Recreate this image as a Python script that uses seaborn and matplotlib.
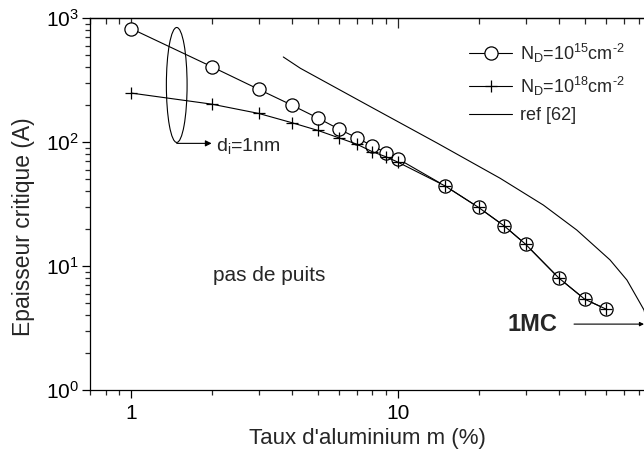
import matplotlib
matplotlib.use("Agg")
import numpy as np
import pandas as pd
import matplotlib.pyplot as plt
import seaborn as sns
from matplotlib.patches import Ellipse
from matplotlib.ticker import LogLocator, FixedLocator, FixedFormatter, NullFormatter

# Aluminium content m (%) and critical thickness (A) for two doping levels
taux_m = [1, 2, 3, 4, 5, 6, 7, 8, 9, 10, 15, 20, 25, 30, 40, 50, 60]
ep_nd15 = [820, 405, 266, 198, 156, 127, 108, 93, 82, 73, 44.2, 29.7, 21.0, 15.0, 8.0, 5.4, 4.5]
ep_nd18 = [248, 202, 170, 143, 124, 108, 96, 83.5, 76, 68.6, 44.2, 29.7, 21.0, 15.0, 8.0, 5.4, 4.5]

# Reference curve [62]
ref_m = [3.71, 4.30, 8.0, 14.0, 24.1, 35.0, 46.7, 62.2, 72.0, 79.5, 83.4, 86.0]
ref_ep = [485, 393, 189, 98, 51, 31, 19.5, 11.2, 7.7, 5.3, 4.42, 3.4]

mono_ep = 3.4  # one monolayer (1MC)

sns.set_style("ticks")
plt.rcParams["font.family"] = ["Liberation Sans", "DejaVu Sans"]
plt.rcParams["mathtext.fontset"] = "custom"
plt.rcParams["mathtext.rm"] = "Liberation Sans"
plt.rcParams["mathtext.it"] = "Liberation Sans:italic"
plt.rcParams["mathtext.bf"] = "Liberation Sans:bold"
plt.rcParams["mathtext.default"] = "regular"

FS = 15

fig = plt.figure(figsize=(6.44, 4.5), dpi=100)
ax = fig.add_axes([0.1398, 0.1333, 0.8602, 0.8267])

df15 = pd.DataFrame({"m": taux_m, "e": ep_nd15})
df18 = pd.DataFrame({"m": taux_m, "e": ep_nd18})
dfref = pd.DataFrame({"m": ref_m, "e": ref_ep})

sns.lineplot(data=df15, x="m", y="e", ax=ax, color="k", lw=0.8, marker="o",
             markersize=9.5, markerfacecolor="white", markeredgecolor="k",
             markeredgewidth=0.9, estimator=None, sort=False,
             label=r"N$_D$=10$^{15}$cm$^{\text{-}2}$")
sns.lineplot(data=df18, x="m", y="e", ax=ax, color="k", lw=0.8, marker="+",
             markersize=9, markeredgecolor="k", markeredgewidth=0.9,
             estimator=None, sort=False, label=r"N$_D$=10$^{18}$cm$^{\text{-}2}$")
sns.lineplot(data=dfref, x="m", y="e", ax=ax, color="k", lw=0.8,
             estimator=None, sort=False, label="ref [62]")

ax.set_xscale("log")
ax.set_yscale("log")
ax.set_xlim(0.7, 83.4)
ax.set_ylim(1, 1000)

# axis ticks
ax.xaxis.set_major_locator(FixedLocator([1, 10, 100]))
ax.xaxis.set_major_formatter(FixedFormatter(["1", "10", "100"]))
ax.xaxis.set_minor_locator(LogLocator(base=10, subs=np.arange(2, 10)))
ax.xaxis.set_minor_formatter(NullFormatter())
ax.yaxis.set_major_locator(FixedLocator([1, 10, 100, 1000]))
ax.yaxis.set_major_formatter(FixedFormatter([r"10$^0$", r"10$^1$", r"10$^2$", r"10$^3$"]))
ax.yaxis.set_minor_locator(LogLocator(base=10, subs=np.arange(2, 10)))
ax.yaxis.set_minor_formatter(NullFormatter())

ax.tick_params(axis="both", which="major", direction="out", length=6, width=0.9,
               labelsize=FS, colors="k")
ax.tick_params(axis="both", which="minor", direction="out", length=3.5, width=0.9)
ax.tick_params(axis="x", pad=4)
ax.tick_params(axis="y", pad=2)

for side in ["left", "bottom", "top"]:
    ax.spines[side].set_linewidth(0.9)
    ax.spines[side].set_color("k")
ax.spines["right"].set_visible(False)

# mirrored top axis with inward ticks
top = ax.secondary_xaxis("top")
top.xaxis.set_major_locator(FixedLocator([1, 10, 100]))
top.xaxis.set_minor_locator(LogLocator(base=10, subs=np.arange(2, 10)))
top.xaxis.set_major_formatter(NullFormatter())
top.xaxis.set_minor_formatter(NullFormatter())
top.tick_params(axis="x", which="major", direction="in", length=7, width=0.9)
top.tick_params(axis="x", which="minor", direction="in", length=4, width=0.9)
top.spines["top"].set_linewidth(0.9)

ax.set_xlabel("Taux d'aluminium m (%)", fontsize=16, labelpad=4)
ax.set_ylabel("Epaisseur critique (A)", fontsize=16.5)
ax.yaxis.set_label_coords(-0.099, 0.44)

ax.legend(loc="upper left", bbox_to_anchor=(0.684, 0.937), frameon=False,
          fontsize=13, handlelength=2.4, handletextpad=0.45, labelspacing=0.55,
          borderpad=0, borderaxespad=0)

# ellipse grouping the low-m points, with arrow to its label
ax.add_patch(Ellipse((0.1565, 0.820), 0.0374, 0.309, transform=ax.transAxes,
                     fill=False, lw=0.8, ec="k"))
ax.annotate("", xy=(0.2195, 0.663), xytext=(0.1565, 0.663),
            xycoords="axes fraction", textcoords="axes fraction",
            arrowprops=dict(arrowstyle="-|>", lw=0.8, color="k",
                            mutation_scale=9, shrinkA=0, shrinkB=0))
ax.text(0.227, 0.655, r"d$_i$=1nm", transform=ax.transAxes, fontsize=14,
        va="center", ha="left")

ax.text(0.222, 0.293, "pas de puits", transform=ax.transAxes, fontsize=15,
        va="baseline", ha="left")

# one-monolayer marker
ax.text(0.754, 0.159, "1MC", transform=ax.transAxes, fontsize=17,
        fontweight="bold", va="baseline", ha="left")
ax.annotate("", xy=(83.4, mono_ep), xytext=(45.6, mono_ep),
            arrowprops=dict(arrowstyle="-|>", lw=0.8, color="k",
                            mutation_scale=6, shrinkA=0, shrinkB=0),
            annotation_clip=False)

fig.savefig("out.png", dpi=100)
